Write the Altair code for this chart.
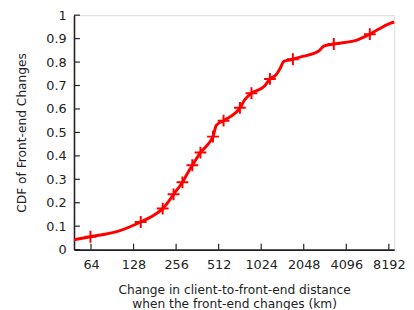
import altair as alt
import pandas as pd

# CDF curve (distance change in km, cumulative fraction)
dist = [48.5, 63.4, 100, 143.8, 170.5, 205.8, 223, 245.6, 283.8, 307.6,
        333.4, 380.8, 447, 467, 492.5, 554.5, 724, 784.7, 873.8, 1082,
        1181, 1300, 1400, 1480, 1716, 1899, 2620, 2837, 3342, 4970, 6010, 8360, 8940]
cdf = [0.042, 0.055, 0.079, 0.118, 0.14, 0.175, 0.20, 0.236, 0.287, 0.325,
       0.36, 0.414, 0.462, 0.482, 0.53, 0.55, 0.605, 0.64, 0.667, 0.698,
       0.728, 0.745, 0.775, 0.803, 0.812, 0.82, 0.847, 0.868, 0.877, 0.896, 0.919, 0.965, 0.971]

# marker positions
mark_dist = [63.4, 143.8, 205.8, 245.6, 283.8, 333.4, 380.8, 467, 554.5,
             724, 873.8, 1181, 1716, 3342, 6010]
mark_cdf = [0.055, 0.118, 0.175, 0.236, 0.287, 0.36, 0.414, 0.482, 0.55,
            0.605, 0.667, 0.728, 0.812, 0.877, 0.919]

x_ticks = [64, 128, 256, 512, 1024, 2048, 4096, 8192]
y_ticks = [0, 0.1, 0.2, 0.3, 0.4, 0.5, 0.6, 0.7, 0.8, 0.9, 1]

W, H = 325, 238
FONT = "DejaVu Sans"
AX = "#222222"
LFS = 13
TFS = 12.4

line_df = pd.DataFrame({"d": dist, "c": cdf})
mark_df = pd.DataFrame({"d": mark_dist, "c": mark_cdf})
xt_df = pd.DataFrame({"d": x_ticks})
yt_df = pd.DataFrame({"c": y_ticks})

xscale = alt.Scale(type="log", base=2, domain=[48.5, 8940], nice=False)
yscale = alt.Scale(domain=[0, 1], nice=False)

xaxis = alt.Axis(values=x_ticks, format="d", ticks=False, tickSize=0, grid=False,
                 labelPadding=9, labelFontSize=LFS, labelFont=FONT, labelColor=AX,
                 labelOverlap=False, labelFlush=False,
                 title=["Change in client-to-front-end distance", "when the front-end changes (km)"],
                 titleFont=FONT, titleFontSize=TFS, titleFontWeight="normal", titleColor=AX,
                 titleY=35, titleLineHeight=13.5,
                 domainColor=AX, domainWidth=1.6)
yaxis = alt.Axis(values=y_ticks, format="~g", ticks=False, tickSize=0, grid=False,
                 labelPadding=8, labelFontSize=LFS, labelFont=FONT, labelColor=AX,
                 labelOverlap=False, labelFlush=False,
                 title="CDF of Front-end Changes", titleFont=FONT, titleFontSize=TFS,
                 titleFontWeight="normal", titleColor=AX, titleX=-53, titleBaseline="middle",
                 domainColor=AX, domainWidth=1.6)

line = alt.Chart(line_df).mark_line(color="#ff0000", strokeWidth=3, interpolate="monotone").encode(
    x=alt.X("d:Q", scale=xscale, axis=xaxis),
    y=alt.Y("c:Q", scale=yscale, axis=yaxis),
)

pts = alt.Chart(mark_df).mark_point(
    shape="M-1,0H1M0,-1V1", size=144, filled=False, stroke="#ff0000", strokeWidth=2, opacity=1
).encode(
    x=alt.X("d:Q", scale=xscale, axis=xaxis),
    y=alt.Y("c:Q", scale=yscale, axis=yaxis),
)

yt = alt.Chart(yt_df).mark_rule(color=AX, strokeWidth=1.2).encode(
    y=alt.Y("c:Q", scale=yscale, axis=yaxis),
    x=alt.value(0), x2=alt.value(6),
)
xt = alt.Chart(xt_df).mark_rule(color=AX, strokeWidth=1.2).encode(
    x=alt.X("d:Q", scale=xscale, axis=xaxis),
    y=alt.value(H), y2=alt.value(H - 6),
)

chart = alt.layer(line, yt, xt, pts).properties(
    width=W, height=H,
    autosize=alt.AutoSizeParams(type="none"),
    padding={"left": 67, "top": 5, "right": 12, "bottom": 60},
).configure_view(stroke=None).configure(background="white")

chart.save("out.html", embed_options={"renderer": "svg", "actions": False})
